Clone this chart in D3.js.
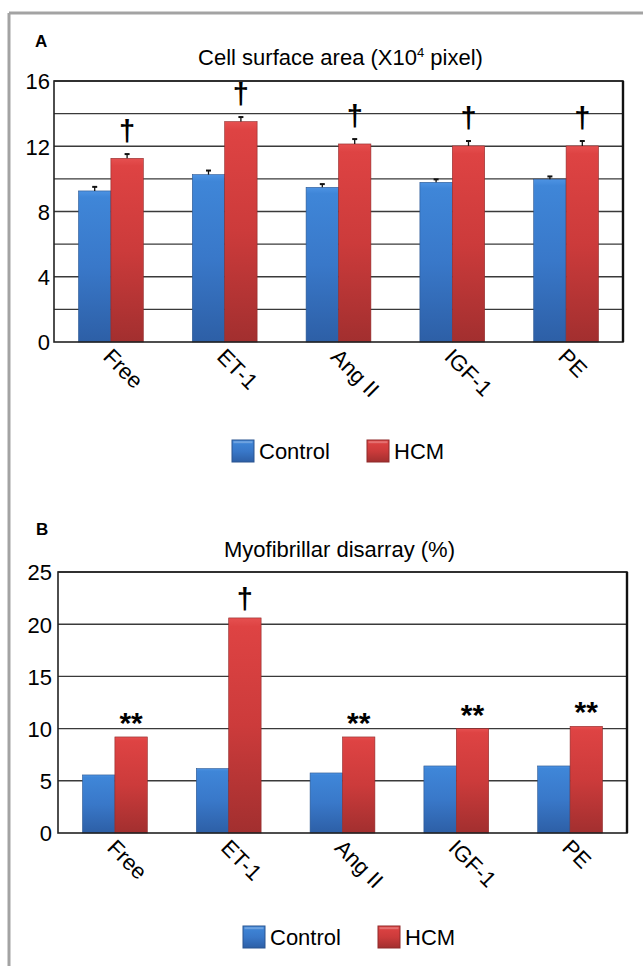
<!DOCTYPE html>
<html><head><meta charset="utf-8">
<script src="https://cdn.jsdelivr.net/npm/d3@7"></script>
<style>body{margin:0;background:#fff} text{font-family:"Liberation Sans",Arial,Helvetica,sans-serif;fill:#000}</style>
</head><body><svg id="c" width="643" height="966"></svg>
<script>
const categories = ["Free", "ET-1", "Ang II", "IGF-1", "PE"];
const series = ["Control", "HCM"];
// Panel A: cell surface area (x10^4 pixel)
const areaControl = [9.26, 10.26, 9.48, 9.79, 9.98];
const areaHCM = [11.26, 13.51, 12.14, 12.02, 12.02];
const areaControlErr = [0.25, 0.25, 0.2, 0.18, 0.17];
const areaHCMErr = [0.26, 0.28, 0.3, 0.3, 0.3];
const areaMarks = ["†", "†", "†", "†", "†"];
const areaTicks = [0, 4, 8, 12, 16];
const areaGrid = [2, 4, 6, 8, 10, 12, 14, 16];
// Panel B: myofibrillar disarray (%)
const disarrayControl = [5.56, 6.17, 5.75, 6.42, 6.42];
const disarrayHCM = [9.2, 20.6, 9.2, 10.0, 10.22];
const disarrayMarks = ["**", "†", "**", "**", "**"];
const disarrayTicks = [0, 5, 10, 15, 20, 25];
const disarrayGrid = [5, 10, 15, 20, 25];

const svg = d3.select("#c");
const defs = svg.append("defs");
function grad(id, stops) {
  const g = defs.append("linearGradient").attr("id", id).attr("x1", 0).attr("y1", 0).attr("x2", 0).attr("y2", 1);
  stops.forEach(s => g.append("stop").attr("offset", s[0]).attr("stop-color", s[1]));
}
grad("gBlue", [[0, "#4d93e3"], [0.04, "#3f86d8"], [0.5, "#3978c9"], [1, "#2d5fa6"]]);
grad("gRed", [[0, "#e65050"], [0.04, "#de4343"], [0.5, "#cc3b3b"], [1, "#a22f2f"]]);
const fills = ["url(#gBlue)", "url(#gRed)"];
const strokes = ["#2a5590", "#8f2a2a"];

// outer gray frame
svg.append("line").attr("x1", 9).attr("x2", 643).attr("y1", 13).attr("y2", 13).attr("stroke", "#a3a3a3").attr("stroke-width", 3);
svg.append("line").attr("x1", 9).attr("x2", 9).attr("y1", 13).attr("y2", 966).attr("stroke", "#a3a3a3").attr("stroke-width", 3);

function panel(cfg) {
  const g = svg.append("g");
  const x = d3.scaleBand().domain(categories).range([cfg.left, cfg.right]).padding(0);
  const xs = d3.scaleBand().domain(series).range([-32.4, 32.4]).padding(0);
  const y = d3.scaleLinear().domain([0, cfg.max]).range([cfg.bottom, cfg.top]);

  // grid
  g.selectAll(".grid").data(cfg.grid).join("line")
    .attr("x1", cfg.left).attr("x2", cfg.right)
    .attr("y1", d => y(d)).attr("y2", d => y(d))
    .attr("stroke", "#3a3a3a").attr("stroke-width", 1.4);

  // y axis labels
  const ya = d3.axisLeft(y).tickValues(cfg.ticks).tickSize(0).tickPadding(cfg.tickPad);
  const yg = g.append("g").attr("transform", `translate(${cfg.left},0)`).call(ya);
  yg.select(".domain").remove();
  yg.selectAll("text").attr("font-size", 22).attr("fill", "#000").attr("dy", "0.36em")
    .style("font-family", '"Liberation Sans",Arial,sans-serif');

  // bars
  const rows = categories.map((c, i) => ({c, vals: cfg.vals.map((v, k) => ({s: series[k], k, v: v[i], e: cfg.errs ? cfg.errs[k][i] : 0}))}));
  const grp = g.selectAll(".grp").data(rows).join("g")
    .attr("transform", d => `translate(${x(d.c) + x.bandwidth() / 2},0)`);
  grp.selectAll("rect").data(d => d.vals).join("rect")
    .attr("x", d => xs(d.s)).attr("width", xs.bandwidth())
    .attr("y", d => y(d.v)).attr("height", d => y(0) - y(d.v))
    .attr("fill", d => fills[d.k]).attr("stroke", d => strokes[d.k]).attr("stroke-width", 0.6);

  // error bars
  if (cfg.errs) {
    const eb = grp.selectAll(".eb").data(d => d.vals).join("g");
    eb.append("line")
      .attr("x1", d => xs(d.s) + xs.bandwidth() / 2).attr("x2", d => xs(d.s) + xs.bandwidth() / 2)
      .attr("y1", d => y(d.v)).attr("y2", d => y(d.v + d.e))
      .attr("stroke", "#111").attr("stroke-width", 1.3);
    eb.append("line")
      .attr("x1", d => xs(d.s) + xs.bandwidth() / 2 - 2.5).attr("x2", d => xs(d.s) + xs.bandwidth() / 2 + 2.5)
      .attr("y1", d => y(d.v + d.e)).attr("y2", d => y(d.v + d.e))
      .attr("stroke", "#111").attr("stroke-width", 2);
  }

  // significance marks above HCM bar
  grp.append("text")
    .attr("x", xs("HCM") + xs.bandwidth() / 2)
    .attr("y", (d, i) => {
      const h = d.vals[1];
      const m = cfg.marks[i];
      return y(h.v + h.e) - (m === "†" ? cfg.daggerGap : 4);
    })
    .attr("text-anchor", "middle")
    .attr("font-size", (d, i) => cfg.marks[i] === "†" ? 29 : 30)
    .attr("font-weight", "bold")
    .text((d, i) => cfg.marks[i]);

  // frame
  g.append("rect").attr("x", cfg.left).attr("y", cfg.top).attr("width", cfg.right - cfg.left).attr("height", cfg.bottom - cfg.top)
    .attr("fill", "none").attr("stroke", "#222").attr("stroke-width", 1.6);
  g.append("line").attr("x1", cfg.right).attr("x2", cfg.right).attr("y1", cfg.top).attr("y2", cfg.bottom)
    .attr("stroke", "#111").attr("stroke-width", 2.4);

  // x labels
  const xa = d3.axisBottom(x).tickSize(0).tickPadding(0);
  const xg = g.append("g").attr("transform", `translate(0,${cfg.bottom})`).call(xa);
  xg.select(".domain").remove();
  xg.selectAll("text").attr("font-size", 22).attr("fill", "#000")
    .style("font-family", '"Liberation Sans",Arial,sans-serif')
    .attr("text-anchor", "start").attr("dy", 0).attr("y", 0)
    .attr("transform", "translate(-9,16) rotate(45)");

  // labels
  g.append("text").attr("x", cfg.letterX).attr("y", cfg.letterY).attr("font-size", 17).attr("font-weight", "bold").text(cfg.letter);
  const t = g.append("text").attr("x", (cfg.left + cfg.right) / 2 + cfg.titleDx).attr("y", cfg.titleY)
    .attr("text-anchor", "middle").attr("font-size", 22);
  cfg.title.forEach(p => {
    const ts = t.append("tspan").text(p.t);
    if (p.sup) ts.attr("font-size", 13).attr("dy", -8);
    if (p.after) ts.attr("dy", 8);
  });

  // legend
  const lg = g.append("g").attr("transform", `translate(${cfg.legX},${cfg.legY})`);
  const legItems = [{s: "Control", k: 0, dx: 0}, {s: "HCM", k: 1, dx: 135}];
  legItems.forEach(it => {
    lg.append("rect").attr("x", it.dx).attr("y", 0).attr("width", 22).attr("height", 22)
      .attr("fill", fills[it.k]).attr("stroke", strokes[it.k]).attr("stroke-width", 1);
    lg.append("rect").attr("x", it.dx + 1.5).attr("y", 1.2).attr("width", 19).attr("height", 2)
      .attr("fill", "#fff").attr("opacity", 0.25);
    lg.append("text").attr("x", it.dx + 27).attr("y", 19).attr("font-size", 22).text(it.s);
  });
}

panel({
  left: 54, right: 623, top: 81, bottom: 342, max: 16,
  ticks: areaTicks, grid: areaGrid, tickPad: 4,
  vals: [areaControl, areaHCM], errs: [areaControlErr, areaHCMErr], marks: areaMarks, daggerGap: 13,
  letter: "A", letterX: 35, letterY: 47, titleY: 65, titleDx: 2,
  title: [{t: "Cell surface area (X10"}, {t: "4", sup: true}, {t: " pixel)", after: true}],
  legX: 232, legY: 440
});
panel({
  left: 58, right: 627, top: 572, bottom: 833, max: 25,
  ticks: disarrayTicks, grid: disarrayGrid, tickPad: 6,
  vals: [disarrayControl, disarrayHCM], errs: null, marks: disarrayMarks, daggerGap: 9,
  letter: "B", letterX: 36, letterY: 535, titleY: 557, titleDx: -3,
  title: [{t: "Myofibrillar disarray (%)"}],
  legX: 243, legY: 926
});
</script></body></html>
